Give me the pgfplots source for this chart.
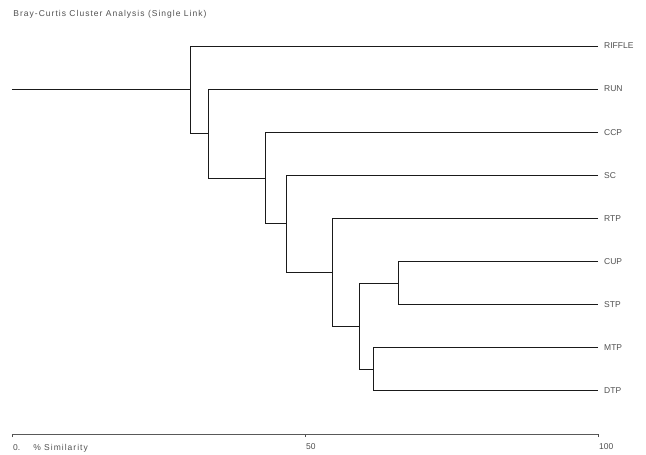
\documentclass[border=0pt]{standalone}
\usepackage{fontspec}
\setmainfont{Liberation Sans}
\newfontfamily\spaced[LetterSpace=12]{Liberation Sans}
\usepackage{pgfplots}
\pgfplotsset{compat=1.18}
\definecolor{txt}{HTML}{505050}
\definecolor{ln}{HTML}{1A1A1A}
\begin{document}
\fontsize{8.5bp}{10bp}\selectfont
\begin{tikzpicture}
\begin{axis}[
 scale only axis, width=586bp, height=388bp,
 xmin=0, xmax=100, ymin=0, ymax=9,
 clip=false,
 axis x line=bottom, axis y line=right,
 x axis line style={-, draw=black!65, line width=0.6pt},
 y axis line style={draw=none},
 xtick={0,50,100}, xticklabels={0.\hspace{13bp}{\spaced\% Similarity},50,100},
 tick align=outside, major tick length=3bp,
 xtick style={draw=black!70, line width=0.6pt},
 xticklabel style={anchor=north west, inner xsep=0pt, xshift=1bp, yshift=-4bp, text=txt, font=\fontsize{8.5bp}{10bp}\selectfont},
 ytick={1,...,9}, yticklabels={DTP,MTP,STP,CUP,RTP,SC,CCP,RUN,RIFFLE},
 ytick style={draw=none},
 yticklabel style={anchor=west, inner xsep=0pt, xshift=3bp, text=txt, font=\fontsize{8.5bp}{10bp}\selectfont},
 /pgf/number format/assume math mode=true,
 dl/.style={ln, line width=0.8pt, mark=none},
]
\addplot[dl] coordinates {(100,4) (65.9,4) (65.9,3) (100,3)};
\addplot[dl] coordinates {(100,2) (61.6,2) (61.6,1) (100,1)};
\addplot[dl] coordinates {(65.9,3.5) (59.2,3.5) (59.2,1.5) (61.6,1.5)};
\addplot[dl] coordinates {(100,5) (54.6,5) (54.6,2.5) (59.2,2.5)};
\addplot[dl] coordinates {(100,6) (46.9,6) (46.9,3.75) (54.6,3.75)};
\addplot[dl] coordinates {(100,7) (43.2,7) (43.2,4.875) (46.9,4.875)};
\addplot[dl] coordinates {(100,8) (33.5,8) (33.5,5.9375) (43.2,5.9375)};
\addplot[dl] coordinates {(100,9) (30.5,9) (30.5,6.96875) (33.5,6.96875)};
\addplot[dl] coordinates {(0,7.984375) (30.5,7.984375)};
\node[anchor=base west, text=txt, inner sep=0pt, font=\spaced\fontsize{8.5bp}{10bp}\selectfont] at (axis cs:0.2,9.675) {Bray-Curtis Cluster Analysis (Single Link)};
\coordinate (O) at (axis cs:0,0);
\end{axis}
\pgfresetboundingbox
\path[shift={(O)}] (-12bp,-21bp) rectangle (634bp,434bp);
\end{tikzpicture}
\end{document}
